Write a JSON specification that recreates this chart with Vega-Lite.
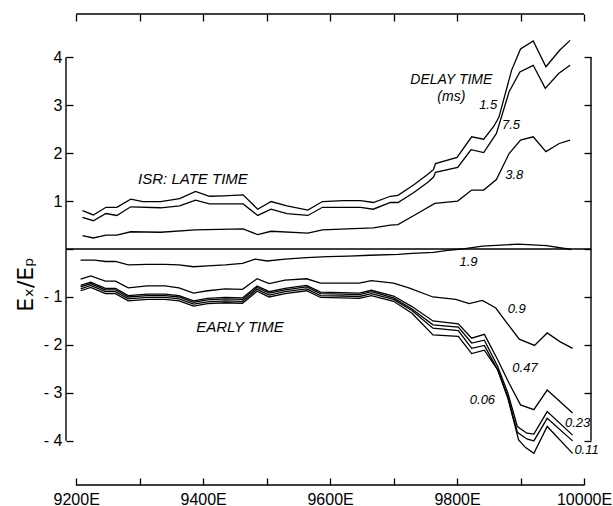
{
  "$schema": "https://vega.github.io/schema/vega-lite/v6.json",
  "width": 525,
  "height": 471,
  "autosize": {"type": "none"},
  "padding": {"left": 66, "top": 14, "right": 22, "bottom": 21},
  "background": "white",
  "config": {
    "view": {"stroke": null},
    "axis": {"grid": false, "domain": false, "tickColor": "black", "tickWidth": 1.3, "labelColor": "black", "labelFont": "Liberation Sans", "titleFont": "DejaVu Sans", "titleColor": "black", "titleFontWeight": "normal"}
  },
  "datasets": {
    "curves": [
      {"s":"1.5","x":9210,"y":0.80},{"s":"1.5","x":9227,"y":0.71},{"s":"1.5","x":9247,"y":0.87},{"s":"1.5","x":9264,"y":0.87},{"s":"1.5","x":9286,"y":1.04},{"s":"1.5","x":9305,"y":0.99},{"s":"1.5","x":9333,"y":0.99},{"s":"1.5","x":9363,"y":1.05},{"s":"1.5","x":9388,"y":1.20},{"s":"1.5","x":9410,"y":1.10},{"s":"1.5","x":9432,"y":1.11},{"s":"1.5","x":9463,"y":1.13},{"s":"1.5","x":9486,"y":0.83},{"s":"1.5","x":9507,"y":0.99},{"s":"1.5","x":9532,"y":0.90},{"s":"1.5","x":9565,"y":0.81},{"s":"1.5","x":9588,"y":0.99},{"s":"1.5","x":9621,"y":1.01},{"s":"1.5","x":9648,"y":1.01},{"s":"1.5","x":9668,"y":0.97},{"s":"1.5","x":9695,"y":1.10},{"s":"1.5","x":9707,"y":1.12},{"s":"1.5","x":9732,"y":1.34},{"s":"1.5","x":9754,"y":1.56},{"s":"1.5","x":9763,"y":1.66},{"s":"1.5","x":9766,"y":1.78},{"s":"1.5","x":9800,"y":1.91},{"s":"1.5","x":9823,"y":2.34},{"s":"1.5","x":9842,"y":2.29},{"s":"1.5","x":9858,"y":2.56},{"s":"1.5","x":9866,"y":2.75},{"s":"1.5","x":9876,"y":3.24},{"s":"1.5","x":9886,"y":3.73},{"s":"1.5","x":9900,"y":4.17},{"s":"1.5","x":9920,"y":4.34},{"s":"1.5","x":9940,"y":3.80},{"s":"1.5","x":9962,"y":4.15},{"s":"1.5","x":9978,"y":4.35},
      {"s":"7.5","x":9210,"y":0.66},{"s":"7.5","x":9227,"y":0.59},{"s":"7.5","x":9247,"y":0.74},{"s":"7.5","x":9264,"y":0.70},{"s":"7.5","x":9286,"y":0.88},{"s":"7.5","x":9333,"y":0.86},{"s":"7.5","x":9363,"y":0.90},{"s":"7.5","x":9388,"y":1.02},{"s":"7.5","x":9410,"y":0.94},{"s":"7.5","x":9463,"y":0.94},{"s":"7.5","x":9486,"y":0.70},{"s":"7.5","x":9507,"y":0.83},{"s":"7.5","x":9532,"y":0.74},{"s":"7.5","x":9565,"y":0.70},{"s":"7.5","x":9588,"y":0.87},{"s":"7.5","x":9648,"y":0.87},{"s":"7.5","x":9668,"y":0.83},{"s":"7.5","x":9695,"y":0.97},{"s":"7.5","x":9707,"y":0.97},{"s":"7.5","x":9732,"y":1.18},{"s":"7.5","x":9754,"y":1.39},{"s":"7.5","x":9763,"y":1.50},{"s":"7.5","x":9766,"y":1.60},{"s":"7.5","x":9801,"y":1.70},{"s":"7.5","x":9822,"y":2.07},{"s":"7.5","x":9842,"y":2.01},{"s":"7.5","x":9862,"y":2.41},{"s":"7.5","x":9882,"y":3.28},{"s":"7.5","x":9899,"y":3.69},{"s":"7.5","x":9920,"y":3.83},{"s":"7.5","x":9939,"y":3.35},{"s":"7.5","x":9960,"y":3.66},{"s":"7.5","x":9978,"y":3.83},
      {"s":"3.8","x":9210,"y":0.28},{"s":"3.8","x":9227,"y":0.23},{"s":"3.8","x":9247,"y":0.29},{"s":"3.8","x":9264,"y":0.29},{"s":"3.8","x":9286,"y":0.36},{"s":"3.8","x":9333,"y":0.35},{"s":"3.8","x":9388,"y":0.40},{"s":"3.8","x":9463,"y":0.42},{"s":"3.8","x":9486,"y":0.30},{"s":"3.8","x":9507,"y":0.37},{"s":"3.8","x":9565,"y":0.33},{"s":"3.8","x":9588,"y":0.40},{"s":"3.8","x":9668,"y":0.44},{"s":"3.8","x":9695,"y":0.50},{"s":"3.8","x":9707,"y":0.51},{"s":"3.8","x":9732,"y":0.70},{"s":"3.8","x":9765,"y":0.95},{"s":"3.8","x":9801,"y":1.00},{"s":"3.8","x":9823,"y":1.23},{"s":"3.8","x":9842,"y":1.23},{"s":"3.8","x":9862,"y":1.45},{"s":"3.8","x":9882,"y":1.99},{"s":"3.8","x":9900,"y":2.27},{"s":"3.8","x":9920,"y":2.34},{"s":"3.8","x":9940,"y":2.03},{"s":"3.8","x":9961,"y":2.20},{"s":"3.8","x":9978,"y":2.27},
      {"s":"1.9","x":9207,"y":-0.23},{"s":"1.9","x":9229,"y":-0.23},{"s":"1.9","x":9246,"y":-0.26},{"s":"1.9","x":9262,"y":-0.26},{"s":"1.9","x":9282,"y":-0.33},{"s":"1.9","x":9312,"y":-0.32},{"s":"1.9","x":9340,"y":-0.32},{"s":"1.9","x":9362,"y":-0.33},{"s":"1.9","x":9385,"y":-0.37},{"s":"1.9","x":9407,"y":-0.35},{"s":"1.9","x":9435,"y":-0.33},{"s":"1.9","x":9462,"y":-0.30},{"s":"1.9","x":9482,"y":-0.21},{"s":"1.9","x":9501,"y":-0.25},{"s":"1.9","x":9529,"y":-0.21},{"s":"1.9","x":9563,"y":-0.18},{"s":"1.9","x":9596,"y":-0.16},{"s":"1.9","x":9629,"y":-0.15},{"s":"1.9","x":9663,"y":-0.13},{"s":"1.9","x":9707,"y":-0.11},{"s":"1.9","x":9729,"y":-0.09},{"s":"1.9","x":9763,"y":-0.07},{"s":"1.9","x":9785,"y":-0.03},{"s":"1.9","x":9807,"y":0.00},{"s":"1.9","x":9840,"y":0.06},{"s":"1.9","x":9896,"y":0.10},{"s":"1.9","x":9941,"y":0.07},{"s":"1.9","x":9980,"y":-0.01},
      {"s":"0.9","x":9207,"y":-0.63},{"s":"0.9","x":9223,"y":-0.56},{"s":"0.9","x":9246,"y":-0.67},{"s":"0.9","x":9262,"y":-0.67},{"s":"0.9","x":9282,"y":-0.81},{"s":"0.9","x":9312,"y":-0.77},{"s":"0.9","x":9340,"y":-0.77},{"s":"0.9","x":9362,"y":-0.81},{"s":"0.9","x":9385,"y":-0.92},{"s":"0.9","x":9407,"y":-0.87},{"s":"0.9","x":9435,"y":-0.83},{"s":"0.9","x":9462,"y":-0.84},{"s":"0.9","x":9485,"y":-0.62},{"s":"0.9","x":9504,"y":-0.72},{"s":"0.9","x":9529,"y":-0.65},{"s":"0.9","x":9563,"y":-0.62},{"s":"0.9","x":9585,"y":-0.71},{"s":"0.9","x":9618,"y":-0.71},{"s":"0.9","x":9646,"y":-0.71},{"s":"0.9","x":9665,"y":-0.66},{"s":"0.9","x":9700,"y":-0.71},{"s":"0.9","x":9724,"y":-0.81},{"s":"0.9","x":9762,"y":-1.00},{"s":"0.9","x":9798,"y":-1.05},{"s":"0.9","x":9819,"y":-1.14},{"s":"0.9","x":9840,"y":-1.07},{"s":"0.9","x":9861,"y":-1.23},{"s":"0.9","x":9879,"y":-1.55},{"s":"0.9","x":9898,"y":-1.88},{"s":"0.9","x":9922,"y":-2.01},{"s":"0.9","x":9942,"y":-1.75},{"s":"0.9","x":9962,"y":-1.93},{"s":"0.9","x":9982,"y":-2.07},
      {"s":"0.47","x":9207,"y":-0.76},{"s":"0.47","x":9223,"y":-0.69},{"s":"0.47","x":9246,"y":-0.82},{"s":"0.47","x":9262,"y":-0.82},{"s":"0.47","x":9282,"y":-0.97},{"s":"0.47","x":9312,"y":-0.94},{"s":"0.47","x":9340,"y":-0.94},{"s":"0.47","x":9362,"y":-0.97},{"s":"0.47","x":9385,"y":-1.08},{"s":"0.47","x":9407,"y":-1.03},{"s":"0.47","x":9435,"y":-1.01},{"s":"0.47","x":9462,"y":-1.02},{"s":"0.47","x":9485,"y":-0.77},{"s":"0.47","x":9504,"y":-0.89},{"s":"0.47","x":9529,"y":-0.82},{"s":"0.47","x":9563,"y":-0.76},{"s":"0.47","x":9585,"y":-0.90},{"s":"0.47","x":9618,"y":-0.91},{"s":"0.47","x":9646,"y":-0.92},{"s":"0.47","x":9665,"y":-0.86},{"s":"0.47","x":9700,"y":-0.98},{"s":"0.47","x":9729,"y":-1.20},{"s":"0.47","x":9762,"y":-1.50},{"s":"0.47","x":9802,"y":-1.56},{"s":"0.47","x":9823,"y":-1.86},{"s":"0.47","x":9843,"y":-1.78},{"s":"0.47","x":9864,"y":-2.31},{"s":"0.47","x":9882,"y":-2.80},{"s":"0.47","x":9900,"y":-3.25},{"s":"0.47","x":9921,"y":-3.35},{"s":"0.47","x":9942,"y":-2.94},{"s":"0.47","x":9982,"y":-3.42},
      {"s":"0.23","x":9207,"y":-0.79},{"s":"0.23","x":9223,"y":-0.72},{"s":"0.23","x":9246,"y":-0.85},{"s":"0.23","x":9262,"y":-0.85},{"s":"0.23","x":9282,"y":-1.00},{"s":"0.23","x":9312,"y":-0.97},{"s":"0.23","x":9340,"y":-0.97},{"s":"0.23","x":9362,"y":-1.00},{"s":"0.23","x":9385,"y":-1.11},{"s":"0.23","x":9407,"y":-1.06},{"s":"0.23","x":9435,"y":-1.04},{"s":"0.23","x":9462,"y":-1.05},{"s":"0.23","x":9485,"y":-0.80},{"s":"0.23","x":9504,"y":-0.92},{"s":"0.23","x":9529,"y":-0.85},{"s":"0.23","x":9563,"y":-0.79},{"s":"0.23","x":9585,"y":-0.93},{"s":"0.23","x":9618,"y":-0.94},{"s":"0.23","x":9646,"y":-0.95},{"s":"0.23","x":9665,"y":-0.89},{"s":"0.23","x":9700,"y":-1.02},{"s":"0.23","x":9729,"y":-1.25},{"s":"0.23","x":9762,"y":-1.58},{"s":"0.23","x":9802,"y":-1.63},{"s":"0.23","x":9823,"y":-1.96},{"s":"0.23","x":9843,"y":-1.90},{"s":"0.23","x":9864,"y":-2.45},{"s":"0.23","x":9880,"y":-3.00},{"s":"0.23","x":9895,"y":-3.70},{"s":"0.23","x":9910,"y":-3.84},{"s":"0.23","x":9921,"y":-3.86},{"s":"0.23","x":9942,"y":-3.39},{"s":"0.23","x":9982,"y":-3.88},
      {"s":"0.11","x":9207,"y":-0.83},{"s":"0.11","x":9223,"y":-0.76},{"s":"0.11","x":9246,"y":-0.89},{"s":"0.11","x":9262,"y":-0.89},{"s":"0.11","x":9282,"y":-1.04},{"s":"0.11","x":9312,"y":-1.01},{"s":"0.11","x":9340,"y":-1.01},{"s":"0.11","x":9362,"y":-1.04},{"s":"0.11","x":9385,"y":-1.15},{"s":"0.11","x":9407,"y":-1.10},{"s":"0.11","x":9435,"y":-1.08},{"s":"0.11","x":9462,"y":-1.09},{"s":"0.11","x":9485,"y":-0.84},{"s":"0.11","x":9504,"y":-0.96},{"s":"0.11","x":9529,"y":-0.89},{"s":"0.11","x":9563,"y":-0.83},{"s":"0.11","x":9585,"y":-0.97},{"s":"0.11","x":9618,"y":-0.98},{"s":"0.11","x":9646,"y":-0.99},{"s":"0.11","x":9665,"y":-0.93},{"s":"0.11","x":9700,"y":-1.05},{"s":"0.11","x":9729,"y":-1.28},{"s":"0.11","x":9762,"y":-1.65},{"s":"0.11","x":9802,"y":-1.70},{"s":"0.11","x":9823,"y":-2.07},{"s":"0.11","x":9843,"y":-2.01},{"s":"0.11","x":9864,"y":-2.52},{"s":"0.11","x":9880,"y":-3.08},{"s":"0.11","x":9895,"y":-3.82},{"s":"0.11","x":9910,"y":-3.96},{"s":"0.11","x":9921,"y":-4.00},{"s":"0.11","x":9942,"y":-3.53},{"s":"0.11","x":9982,"y":-4.00},
      {"s":"0.06","x":9207,"y":-0.87},{"s":"0.06","x":9223,"y":-0.80},{"s":"0.06","x":9246,"y":-0.93},{"s":"0.06","x":9262,"y":-0.93},{"s":"0.06","x":9282,"y":-1.08},{"s":"0.06","x":9312,"y":-1.05},{"s":"0.06","x":9340,"y":-1.05},{"s":"0.06","x":9362,"y":-1.08},{"s":"0.06","x":9385,"y":-1.19},{"s":"0.06","x":9407,"y":-1.14},{"s":"0.06","x":9435,"y":-1.12},{"s":"0.06","x":9462,"y":-1.13},{"s":"0.06","x":9485,"y":-0.88},{"s":"0.06","x":9504,"y":-1.00},{"s":"0.06","x":9529,"y":-0.93},{"s":"0.06","x":9563,"y":-0.87},{"s":"0.06","x":9585,"y":-1.01},{"s":"0.06","x":9618,"y":-1.02},{"s":"0.06","x":9646,"y":-1.03},{"s":"0.06","x":9665,"y":-0.97},{"s":"0.06","x":9700,"y":-1.09},{"s":"0.06","x":9729,"y":-1.34},{"s":"0.06","x":9762,"y":-1.79},{"s":"0.06","x":9802,"y":-1.82},{"s":"0.06","x":9823,"y":-2.18},{"s":"0.06","x":9843,"y":-2.11},{"s":"0.06","x":9864,"y":-2.52},{"s":"0.06","x":9880,"y":-3.11},{"s":"0.06","x":9897,"y":-3.98},{"s":"0.06","x":9908,"y":-4.14},{"s":"0.06","x":9921,"y":-4.26},{"s":"0.06","x":9942,"y":-3.70},{"s":"0.06","x":9982,"y":-4.26}
    ],
    "labels": [
      {"x":9791,"y":3.52,"t":"DELAY TIME","f":14},
      {"x":9791,"y":3.17,"t":"(ms)","f":14},
      {"x":9849,"y":3.0,"t":"1.5","f":13},
      {"x":9885,"y":2.58,"t":"7.5","f":13},
      {"x":9890,"y":1.54,"t":"3.8","f":13},
      {"x":9384,"y":1.47,"t":"ISR: LATE TIME","f":15},
      {"x":9818,"y":-0.28,"t":"1.9","f":13},
      {"x":9894,"y":-1.25,"t":"0.9","f":13},
      {"x":9458,"y":-1.63,"t":"EARLY TIME","f":15},
      {"x":9907,"y":-2.48,"t":"0.47","f":13},
      {"x":9840,"y":-3.15,"t":"0.06","f":13},
      {"x":9990,"y":-3.63,"t":"0.23","f":13},
      {"x":10004,"y":-4.19,"t":"0.11","f":13}
    ]
  },
  "layer": [
    {
      "data": {"name": "curves"},
      "mark": {"type": "line", "color": "black", "strokeWidth": 1.3},
      "encoding": {
        "x": {"field": "x", "type": "quantitative", "scale": {"domain": [9184, 10011], "nice": false, "zero": false},
              "axis": {"orient": "bottom", "offset": -7, "tickSize": 7, "values": [9200,9300,9400,9500,9600,9700,9800,9900,10000], "labelExpr": "datum.value % 200 == 0 ? datum.value + 'E' : ''", "labelFontSize": 16, "labelPadding": 6, "labelFlush": false, "title": null}},
        "y": {"field": "y", "type": "quantitative", "scale": {"domain": [-4.92, 4.9], "nice": false, "zero": false},
              "axis": {"orient": "left", "offset": -7, "tickSize": 7, "values": [-4,-3,-2,-1,0,1,2,3,4], "labelExpr": "datum.value == 0 ? '' : (datum.value < 0 ? '- ' + abs(datum.value) : '' + datum.value)", "labelFontSize": 16, "labelPadding": 4, "title": "Eₓ/Eₚ", "titleFontSize": 22, "titlePadding": 6, "titleY": 270}},
        "detail": {"field": "s"}
      }
    },
    {
      "data": {"values": [{}]},
      "mark": {"type": "rule", "color": "black", "strokeWidth": 1.4},
      "encoding": {
        "x": {"datum": 9184, "type": "quantitative", "axis": {"orient": "top", "offset": -7, "tickSize": 7, "values": [9200,9300,9400,9500,9600,9700,9800,9900,10000], "labels": false, "title": null}},
        "y": {"datum": -4, "type": "quantitative", "axis": {"orient": "right", "offset": -7, "tickSize": 7, "values": [-4,-3,-2,-1,0,1,2,3,4], "labels": false, "title": null}},
        "y2": {"datum": 4}
      }
    },
    {
      "data": {"values": [{}]},
      "mark": {"type": "rule", "color": "black", "strokeWidth": 1.4},
      "encoding": {
        "x": {"datum": 10011, "type": "quantitative", "axis": null},
        "y": {"datum": -4, "type": "quantitative", "axis": null},
        "y2": {"datum": 4}
      }
    },
    {
      "data": {"values": [{}]},
      "mark": {"type": "rule", "color": "black", "strokeWidth": 1.4},
      "encoding": {
        "x": {"datum": 9200, "type": "quantitative", "axis": null},
        "x2": {"datum": 10000},
        "y": {"datum": 4.9, "type": "quantitative", "axis": null}
      }
    },
    {
      "data": {"values": [{}]},
      "mark": {"type": "rule", "color": "black", "strokeWidth": 1.4},
      "encoding": {
        "x": {"datum": 9200, "type": "quantitative", "axis": null},
        "x2": {"datum": 10000},
        "y": {"datum": -4.92, "type": "quantitative", "axis": null}
      }
    },
    {
      "data": {"values": [{}]},
      "mark": {"type": "rule", "color": "black", "strokeWidth": 1.4},
      "encoding": {
        "x": {"datum": 9184, "type": "quantitative", "axis": null},
        "x2": {"datum": 10011},
        "y": {"datum": 0, "type": "quantitative", "axis": null}
      }
    },
    {
      "data": {"name": "labels"},
      "mark": {"type": "text", "color": "black", "font": "Liberation Sans", "fontStyle": "italic", "align": "center", "baseline": "middle"},
      "encoding": {
        "x": {"field": "x", "type": "quantitative", "axis": null},
        "y": {"field": "y", "type": "quantitative", "axis": null},
        "text": {"field": "t"},
        "size": {"field": "f", "type": "quantitative", "scale": null, "legend": null}
      }
    }
  ],
  "resolve": {"axis": {"x": "independent", "y": "independent"}}
}
